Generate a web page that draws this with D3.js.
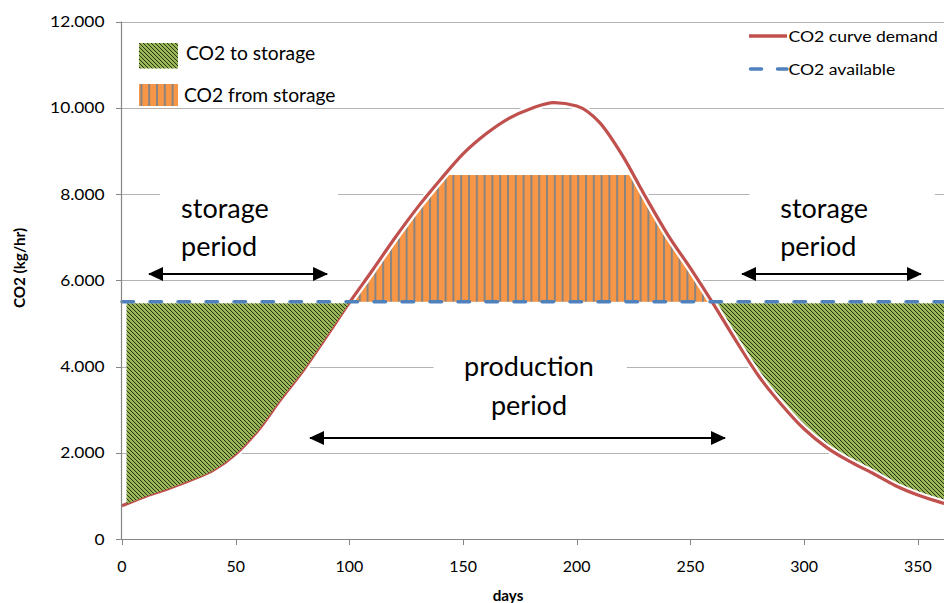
<!DOCTYPE html>
<html><head><meta charset="utf-8">
<script src="https://cdn.jsdelivr.net/npm/d3@7"></script>
<style>
html,body{margin:0;padding:0;background:#fff;}
svg{display:block;font-family:Lato,"Open Sans",sans-serif;}
</style></head>
<body><svg id="c" width="944" height="603"></svg>
<script>
// ---- data ----
const days   = [0,10,20,30,40,50,60,70,80,90,100,110,120,130,140,150,160,170,180,190,200,210,220,230,240,250,260,270,280,290,300,310,320,330,340,350,360,365];
const demand = [770,980,1160,1360,1590,1970,2530,3250,3930,4700,5480,6220,6980,7690,8330,8930,9390,9750,9985,10120,10040,9660,8900,7960,7060,6280,5460,4600,3780,3120,2550,2120,1800,1530,1240,1020,850,780];
const availableDays = [0, 365];
const available = [5500, 5500];
const fromStorageMax = [8440];
const storageStartDay = [2];
const xTicks = [0,50,100,150,200,250,300,350];
const yTicks = [0,2000,4000,6000,8000,10000,12000];
const yTickLabels = ["0","2.000","4.000","6.000","8.000","10.000","12.000"];
const legendAreas = ["CO2 to storage","CO2 from storage"];
const legendLines = ["CO2 curve demand","CO2 available"];
const xTitle = "days", yTitle = "CO2 (kg/hr)";

const svg = d3.select("#c");
const W = 944, H = 603;
const x = d3.scaleLinear().domain([0,365]).range([122, 122 + 365*2.2737]);
const y = d3.scaleLinear().domain([0,12000]).range([539, 21.5]);
const pts = days.map((d,i)=>({d, v: demand[i]}));

const defs = svg.append("defs");
// green diagonal pattern
const pg = defs.append("pattern").attr("id","pGreen").attr("patternUnits","userSpaceOnUse")
  .attr("width",4).attr("height",4);
pg.append("rect").attr("width",4).attr("height",4).attr("fill","#9bbb59");
for (let i=0;i<4;i++){
  pg.append("rect").attr("x",i).attr("y",i).attr("width",1).attr("height",1).attr("fill","#2c3519");
  pg.append("rect").attr("x",(i+1)%4).attr("y",i).attr("width",1).attr("height",1).attr("fill","#8eab52");
}
// orange vertical stripes
const po = defs.append("pattern").attr("id","pOrange").attr("patternUnits","userSpaceOnUse")
  .attr("width",7.8).attr("height",8);
po.append("rect").attr("width",7.8).attr("height",8).attr("fill","#f79646");
po.append("rect").attr("x",0).attr("width",2).attr("height",8).attr("fill","#8a8480");

const curve = d3.curveMonotoneX;
defs.append("clipPath").attr("id","above").append("path")
  .attr("d", d3.area().x(p=>x(p.d)).y0(0).y1(p=>y(p.v)).curve(curve)(pts));
defs.append("clipPath").attr("id","below").append("path")
  .attr("d", d3.area().x(p=>x(p.d)).y0(y(0)).y1(p=>y(p.v)).curve(curve)(pts));
defs.append("marker").attr("id","ah").attr("markerUnits","userSpaceOnUse")
  .attr("viewBox","0 0 15 14").attr("refX",14).attr("refY",7)
  .attr("markerWidth",15).attr("markerHeight",14).attr("orient","auto-start-reverse")
  .append("path").attr("d","M0,0 L15,7 L0,14 Z").attr("fill","#000");

// gridlines
svg.append("g").selectAll("line").data(yTicks.filter(t=>t>0)).join("line")
  .attr("x1",x(0)-1).attr("x2",W).attr("y1",d=>Math.round(y(d))+0.5).attr("y2",d=>Math.round(y(d))+0.5)
  .attr("stroke","#b3b3b3").attr("stroke-width",1.2);

// text boxes (white background)
const boxes = [
  {x0:16.7, x1:95, v0:8400, v1:6550},
  {x0:276, x1:357.5, v0:8400, v1:6550},
  {x0:137, x1:222, v0:4400, v1:2700}
];
svg.append("g").selectAll("rect").data(boxes).join("rect")
  .attr("x",b=>x(b.x0)).attr("width",b=>x(b.x1)-x(b.x0))
  .attr("y",b=>y(b.v0)).attr("height",b=>y(b.v1)-y(b.v0)).attr("fill","#fff");

const peakDay = days[d3.maxIndex(demand)];
const lvl = available[0];
// right green area
svg.append("rect").attr("clip-path","url(#above)")
  .attr("x",x(peakDay)).attr("width",W - x(peakDay))
  .attr("y",y(lvl)+1.5).attr("height",y(0)-y(lvl)-1.5).attr("fill","url(#pGreen)");
// orange area
svg.append("rect").attr("clip-path","url(#below)")
  .attr("x",x(0)).attr("width",W - x(0))
  .attr("y",y(fromStorageMax[0])).attr("height",y(lvl)-y(fromStorageMax[0])).attr("fill","url(#pOrange)");

// demand line with white halo
const line = d3.line().x(p=>x(p.d)).y(p=>y(p.v)).curve(curve);
svg.append("path").attr("d",line(pts)).attr("fill","none").attr("stroke","#fff").attr("stroke-width",7.5);
svg.append("path").attr("d",line(pts)).attr("fill","none").attr("stroke","#c0504d").attr("stroke-width",3.2);

// left green area
svg.append("rect").attr("clip-path","url(#above)")
  .attr("x",x(storageStartDay[0])).attr("width",x(peakDay)-x(storageStartDay[0]))
  .attr("y",y(lvl)+1.5).attr("height",y(0)-y(lvl)-1.5).attr("fill","url(#pGreen)");

// available dashed line
svg.append("path").attr("d", d3.line().x((d,i)=>x(availableDays[i])).y(d=>y(d))(available))
  .attr("fill","none").attr("stroke","#4f81bd").attr("stroke-width",3.5)
  .attr("stroke-dasharray","11.5,16.5").attr("stroke-linecap","round");

// helper for horizontally stretched text
function stext(g, tx, ty, sx, size, anchor, str, weight){
  return g.append("text").attr("transform",`translate(${tx},${ty}) scale(${sx},1)`)
    .attr("font-size",size).attr("text-anchor",anchor||"start")
    .attr("font-weight",weight||"normal").attr("fill","#000").text(str);
}

// axes
svg.append("line").attr("x1",121.5).attr("x2",121.5).attr("y1",y(12000)).attr("y2",539.5).attr("stroke","#868686").attr("stroke-width",1.2);
svg.append("line").attr("x1",121).attr("x2",W).attr("y1",539.5).attr("y2",539.5).attr("stroke","#868686").attr("stroke-width",1.2);
svg.append("g").selectAll("line").data(yTicks).join("line")
  .attr("x1",116).attr("x2",121).attr("y1",d=>Math.round(y(d))+0.5).attr("y2",d=>Math.round(y(d))+0.5).attr("stroke","#868686");
svg.append("g").selectAll("line").data(xTicks).join("line")
  .attr("x1",d=>Math.round(x(d))+0.5).attr("x2",d=>Math.round(x(d))+0.5).attr("y1",539).attr("y2",545).attr("stroke","#868686");
const gy = svg.append("g");
yTicks.forEach((t,i)=>stext(gy, 104.5, y(t)+5.5, 1.12, 15.5, "end", yTickLabels[i]));
const gx = svg.append("g");
xTicks.forEach(t=>stext(gx, x(t), 572, 1.1, 14.5, "middle", String(t)));
stext(svg, 508, 601, 1.05, 14.5, "middle", xTitle, "bold");
svg.append("text").attr("transform","translate(25,268) rotate(-90) scale(1.05,1)").attr("text-anchor","middle")
  .attr("font-weight","bold").attr("font-size",14.5).text(yTitle);

// annotations
const notes = [
  {lines:["storage","period"], d:26, v:7450, anchor:"start"},
  {lines:["storage","period"], d:289.5, v:7450, anchor:"start"},
  {lines:["production","period"], d:179, v:3770, anchor:"middle"}
];
notes.forEach(n=>{
  const t = svg.append("text").attr("font-size",27).attr("text-anchor",n.anchor).attr("fill","#000");
  n.lines.forEach((s,i)=>t.append("tspan").attr("x",x(n.d)).attr("y",y(n.v)+i*38.7).text(s));
});
const arrows = [
  {d0:11.9, d1:90.2, v:6145},
  {d0:272.7, d1:351.4, v:6145},
  {d0:82.7, d1:265.2, v:2342}
];
svg.append("g").selectAll("line").data(arrows).join("line")
  .attr("x1",a=>x(a.d0)).attr("x2",a=>x(a.d1)).attr("y1",a=>y(a.v)).attr("y2",a=>y(a.v))
  .attr("stroke","#000").attr("stroke-width",2.2)
  .attr("marker-start","url(#ah)").attr("marker-end","url(#ah)");

// legends
const la = svg.append("g");
const fills = ["url(#pGreen)","url(#pOrange)"];
[{y0:43,h:25.5,ty:59.5,tx:186},{y0:84,h:22,ty:102,tx:184}].forEach((p,i)=>{
  la.append("rect").attr("x",139).attr("y",p.y0).attr("width",39).attr("height",p.h).attr("fill",fills[i]);
  stext(la, p.tx, p.ty, 1.04, 18.5, "start", legendAreas[i]);
});
const ll = svg.append("g");
ll.append("line").attr("x1",749).attr("x2",787).attr("y1",36).attr("y2",36).attr("stroke","#c0504d").attr("stroke-width",3.5);
ll.append("line").attr("x1",750.5).attr("x2",787).attr("y1",69).attr("y2",69).attr("stroke","#4f81bd").attr("stroke-width",3.5)
  .attr("stroke-dasharray","11,16").attr("stroke-linecap","round");
legendLines.forEach((s,i)=>stext(ll, 788.5, i?74.5:42, 1.1, 16, "start", s));
</script></body></html>
